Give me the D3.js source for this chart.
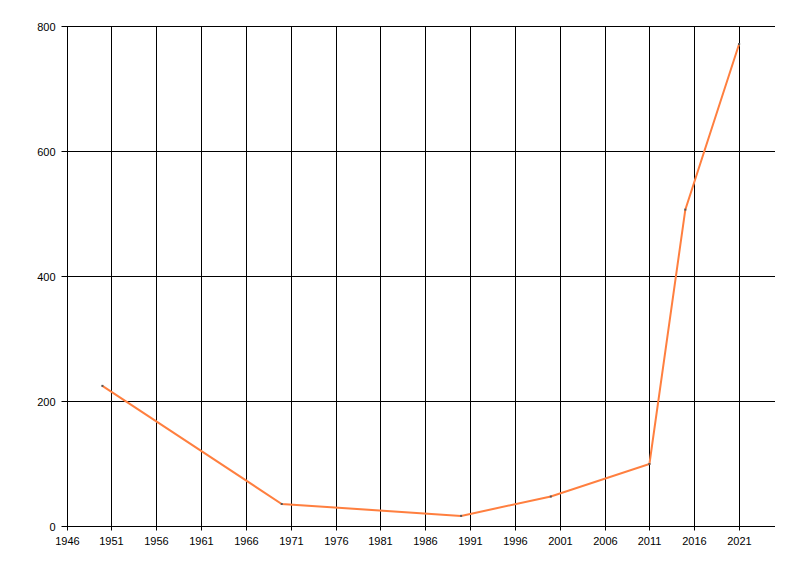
<!DOCTYPE html>
<html><head><meta charset="utf-8">
<script src="https://cdn.jsdelivr.net/npm/d3@7"></script>
<style>body{margin:0;background:#fff}svg{display:block}</style>
</head><body>
<script>
const years = [1950, 1970, 1990, 2000, 2011, 2015, 2021];
const values = [225, 36, 17, 48, 100, 507, 772];
const xTicks = [1946, 1951, 1956, 1961, 1966, 1971, 1976, 1981, 1986, 1991, 1996, 2001, 2006, 2011, 2016, 2021];
const yTicks = [0, 200, 400, 600, 800];

const W = 800, H = 576;
const svg = d3.select("body").append("svg").attr("width", W).attr("height", H);
const x = d3.scaleLinear().domain([1946, 2025]).range([66.5, 775]);
const y = d3.scaleLinear().domain([0, 800]).range([526.5, 26.5]);
const font = "'Liberation Sans', Arial, sans-serif";

// grid
svg.append("g").selectAll("line").data(xTicks).join("line")
  .attr("x1", d => Math.round(x(d)) + 0.5).attr("x2", d => Math.round(x(d)) + 0.5)
  .attr("y1", y(800)).attr("y2", y(0) + 4).attr("stroke", "#000");
svg.append("g").selectAll("line").data(yTicks).join("line")
  .attr("x1", x(1946) - 5).attr("x2", 775)
  .attr("y1", d => y(d)).attr("y2", d => y(d)).attr("stroke", "#000");

// axis labels
svg.append("g").selectAll("text").data(xTicks).join("text")
  .attr("x", d => Math.round(x(d)) + 0.5).attr("y", y(0) + 18.5)
  .attr("text-anchor", "middle").attr("font-family", font).attr("font-size", 11)
  .text(d => d);
svg.append("g").selectAll("text").data(yTicks).join("text")
  .attr("x", x(1946) - 11).attr("y", d => y(d) + 4)
  .attr("text-anchor", "end").attr("font-family", font).attr("font-size", 11)
  .text(d => d);

// line
const data = years.map((d, i) => [d, values[i]]);
svg.append("path").datum(data)
  .attr("d", d3.line().x(d => x(d[0])).y(d => y(d[1])))
  .attr("fill", "none").attr("stroke", "#FF7F3F").attr("stroke-width", 2);
svg.append("g").selectAll("rect").data(data).join("rect")
  .attr("x", d => x(d[0]) - 1).attr("y", d => y(d[1]) - 1)
  .attr("width", 2).attr("height", 2).attr("fill", "#555");
</script>
</body></html>
